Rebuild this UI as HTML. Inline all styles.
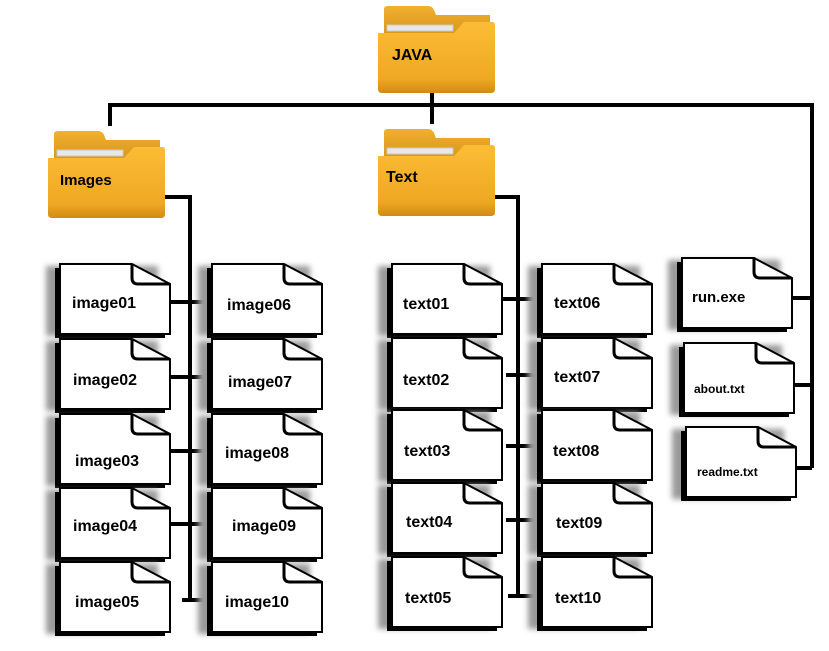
<!DOCTYPE html>
<html><head><meta charset="utf-8"><style>
html,body{margin:0;padding:0;background:#fff;}
svg{display:block;}
text{font-family:"Liberation Sans","DejaVu Sans",sans-serif;font-weight:bold;fill:#000;}
</style></head><body>
<svg width="829" height="651" viewBox="0 0 829 651" xmlns="http://www.w3.org/2000/svg">
<defs>
<filter id="bl" x="-30%" y="-30%" width="160%" height="160%"><feGaussianBlur stdDeviation="3"/></filter>
<linearGradient id="fg" x1="0" y1="0" x2="0" y2="1">
<stop offset="0" stop-color="#fbbd35"/><stop offset="0.8" stop-color="#f0a824"/><stop offset="1" stop-color="#d08a14"/></linearGradient>
<linearGradient id="bg" x1="0" y1="0" x2="0" y2="1">
<stop offset="0" stop-color="#f2b030"/><stop offset="1" stop-color="#d8961c"/></linearGradient>
<g id="doc">
<rect x="-14" y="2" width="112" height="70" fill="#9a9a9a" filter="url(#bl)"/>
<polygon points="-5,4 70,4 105,24 105,74 -5,74" fill="#000"/>
<polygon points="0,0 72,0 110,20 110,70 0,70" fill="#fff" stroke="#000" stroke-width="2"/>
<path d="M72,0 L72,14 Q72,20 78,20 L110,20" fill="none" stroke="#000" stroke-width="3"/>
</g>
<g id="fold">
<path d="M6,4 Q6,1 10,1 L50,1 Q54,1 56,5 L58,10 L112,10 L112,30 L6,30 Z" fill="url(#bg)"/>
<rect x="9" y="20" width="66" height="6" fill="#e8e8e8" stroke="#c8c8c8" stroke-width="1"/>
<path d="M0,28 L76,28 L86,17 L114,17 Q117,17 117,20 L117,84 Q117,88 113,88 L4,88 Q0,88 0,84 Z" fill="url(#fg)"/>
</g>
</defs>

<g stroke="#000" stroke-width="4" fill="none">
<path d="M432,88 V105 M108,105 H814 M110,105 V126 M432,105 V124"/>
<path d="M812,105 V468 M790,298 H812 M790,385 H812 M790,468 H812"/>
<path d="M165,197 H190 V602"/>
<path d="M170,302 H207 M170,377 H207 M170,451 H207 M170,524 H207 M182,600 H207"/>
<path d="M493,197 H518 V596"/>
<path d="M500,299 H540 M506,375 H540 M506,446 H540 M506,520 H540 M508,596 H540"/>
</g>

<use href="#fold" x="378" y="5"/>
<text x="392" y="60" font-size="16">JAVA</text>
<use href="#fold" x="48" y="130"/>
<text x="60" y="185" font-size="15">Images</text>
<use href="#fold" x="378" y="128"/>
<text x="386" y="182" font-size="16">Text</text>

<use href="#doc" x="60" y="264"/><text x="72" y="308" font-size="16">image01</text>
<use href="#doc" x="60" y="339"/><text x="73" y="385" font-size="16">image02</text>
<use href="#doc" x="60" y="414"/><text x="75" y="466" font-size="16">image03</text>
<use href="#doc" x="60" y="488"/><text x="73" y="531" font-size="16">image04</text>
<use href="#doc" x="60" y="562"/><text x="75" y="607" font-size="16">image05</text>
<use href="#doc" x="212" y="264"/><text x="227" y="310" font-size="16">image06</text>
<use href="#doc" x="212" y="339"/><text x="228" y="387" font-size="16">image07</text>
<use href="#doc" x="212" y="414"/><text x="225" y="458" font-size="16">image08</text>
<use href="#doc" x="212" y="488"/><text x="232" y="531" font-size="16">image09</text>
<use href="#doc" x="212" y="562"/><text x="225" y="607" font-size="16">image10</text>

<use href="#doc" x="392" y="264"/><text x="403" y="309" font-size="16">text01</text>
<use href="#doc" x="392" y="338"/><text x="403" y="385" font-size="16">text02</text>
<use href="#doc" x="392" y="410"/><text x="404" y="456" font-size="16">text03</text>
<use href="#doc" x="392" y="483"/><text x="406" y="527" font-size="16">text04</text>
<use href="#doc" x="392" y="557"/><text x="405" y="603" font-size="16">text05</text>
<use href="#doc" x="542" y="264"/><text x="554" y="308" font-size="16">text06</text>
<use href="#doc" x="542" y="338"/><text x="554" y="382" font-size="16">text07</text>
<use href="#doc" x="542" y="410"/><text x="553" y="456" font-size="16">text08</text>
<use href="#doc" x="542" y="483"/><text x="556" y="528" font-size="16">text09</text>
<use href="#doc" x="542" y="557"/><text x="555" y="603" font-size="16">text10</text>

<use href="#doc" x="682" y="258"/><text x="692" y="302" font-size="15">run.exe</text>
<use href="#doc" x="684" y="343"/><text x="694" y="393" font-size="12">about.txt</text>
<use href="#doc" x="686" y="427"/><text x="697" y="476" font-size="12">readme.txt</text>
</svg>
</body></html>
